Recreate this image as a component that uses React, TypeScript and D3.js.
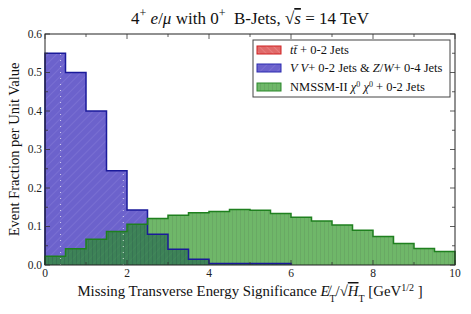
import React from "react";
import * as d3 from "d3";

const binEdges = [0, 0.5, 1, 1.5, 2, 2.5, 3, 3.5, 4, 4.5, 5, 5.5, 6, 6.5, 7, 7.5, 8, 8.5, 9, 9.5, 10];
const vvValues = [0.55, 0.5, 0.4, 0.245, 0.143, 0.08, 0.041, 0.015, 0.004, 0.004, 0.004, 0.004];
const nmssmValues = [0.023, 0.042, 0.067, 0.087, 0.106, 0.121, 0.129, 0.136, 0.139, 0.144, 0.142, 0.134, 0.124, 0.114, 0.104, 0.09, 0.074, 0.056, 0.043, 0.035];
const ttValues: number[] = [];
const xTicks = [0, 2, 4, 6, 8, 10];
const yTicks = [0.0, 0.1, 0.2, 0.3, 0.4, 0.5, 0.6];
const dottedX = [0.38, 1.91];

const W = 471, H = 314;
const M = { left: 45, right: 455, top: 34, bottom: 265 };

export default function App() {
  const x = d3.scaleLinear().domain([0, 10]).range([M.left, M.right]);
  const y = d3.scaleLinear().domain([0, 0.6]).range([M.bottom, M.top]);

  const stepPts = (vals: number[]) => {
    const pts: [number, number][] = vals.map((v, i) => [binEdges[i], v]);
    if (vals.length) pts.push([binEdges[vals.length], vals[vals.length - 1]]);
    return pts;
  };
  const area = d3.area<[number, number]>().x(d => x(d[0])).y0(y(0)).y1(d => y(d[1])).curve(d3.curveStepAfter);
  const line = d3.line<[number, number]>().x(d => x(d[0])).y(d => y(d[1])).curve(d3.curveStepAfter);

  const vvPts = stepPts(vvValues);
  const nmPts = stepPts(nmssmValues);
  const vvLine = "M" + x(0) + "," + y(0) + "L" + line(vvPts)!.slice(1) + "L" + x(binEdges[vvValues.length]) + "," + y(0);
  const nmLine = "M" + x(0) + "," + y(0) + "L" + line(nmPts)!.slice(1) + "L" + x(10) + "," + y(0);

  const serif = "'Liberation Serif', 'DejaVu Serif', serif";
  const minorX = d3.range(0, 10.01, 1);
  const minorY = d3.range(0, 0.601, 0.05);

  return (
    <svg width={W} height={H} style={{ position: "absolute", left: 0, top: 0, background: "#fff" }} fontFamily={serif}>
      <defs>
        <pattern id="hb" patternUnits="userSpaceOnUse" width="6" height="6" patternTransform="rotate(45)">
          <rect width="6" height="6" fill="#6c62cc" />
          <line x1="0" y1="0" x2="0" y2="6" stroke="#857bd9" strokeWidth="1" />
        </pattern>
        <pattern id="hg" patternUnits="userSpaceOnUse" width="4" height="4">
          <rect width="4" height="4" fill="rgb(36,146,27)" />
          <line x1="0.5" y1="0" x2="0.5" y2="4" stroke="rgb(20,110,15)" strokeWidth="0.6" />
        </pattern>
        <pattern id="hr" patternUnits="userSpaceOnUse" width="5" height="5" patternTransform="rotate(-45)">
          <rect width="5" height="5" fill="#e06a6a" />
          <line x1="0" y1="0" x2="0" y2="5" stroke="#f09090" strokeWidth="1" />
        </pattern>
      </defs>

      {/* histograms */}
      <path d={area(vvPts)!} fill="url(#hb)" />
      <path d={area(nmPts)!} fill="url(#hg)" fillOpacity={0.66} />
      {ttValues.length > 0 && <path d={area(stepPts(ttValues))!} fill="url(#hr)" fillOpacity={0.7} />}
      {dottedX.map((dx, i) => {
        const idx = Math.floor(dx / 0.5);
        const top = Math.max(vvValues[idx] ?? 0, nmssmValues[idx] ?? 0);
        return <line key={i} x1={x(dx)} x2={x(dx)} y1={y(0)} y2={y(top)} stroke="#fff" strokeOpacity={0.7} strokeWidth={1} strokeDasharray="1,5" />;
      })}
      <path d={vvLine} fill="none" stroke="#1a1a9a" strokeWidth={1.5} />
      <path d={nmLine} fill="none" stroke="#1f801f" strokeWidth={1.5} />

      {/* frame */}
      <rect x={M.left} y={M.top} width={M.right - M.left} height={M.bottom - M.top} fill="none" stroke="#222" strokeWidth={1} />
      {minorX.map((t, i) => {
        const major = xTicks.includes(t);
        const len = major ? 5 : 3;
        return (
          <g key={"xt" + i} stroke="#333" strokeWidth={0.8}>
            <line x1={x(t)} x2={x(t)} y1={M.bottom} y2={M.bottom - len} />
            <line x1={x(t)} x2={x(t)} y1={M.top} y2={M.top + len} />
          </g>
        );
      })}
      {minorY.map((t, i) => {
        const major = Math.abs(t * 10 - Math.round(t * 10)) < 1e-6;
        const len = major ? 5 : 3;
        return (
          <g key={"yt" + i} stroke="#333" strokeWidth={0.8}>
            <line x1={M.left} x2={M.left + len} y1={y(t)} y2={y(t)} />
            <line x1={M.right} x2={M.right - len} y1={y(t)} y2={y(t)} />
          </g>
        );
      })}
      {xTicks.map(t => (
        <text key={"xl" + t} x={x(t)} y={M.bottom + 12} textAnchor="middle" fontSize={11.5} fill="#222">{t}</text>
      ))}
      {yTicks.map(t => (
        <text key={"yl" + t} x={M.left - 3} y={y(t) + 3.5} textAnchor="end" fontSize={11.5} fill="#222">{t.toFixed(1)}</text>
      ))}

      {/* title */}
      <text x={250} y={24} textAnchor="middle" fontSize={17} fill="#111">
        4<tspan baselineShift="super" fontSize={12}>+</tspan> <tspan fontStyle="italic">e</tspan>/<tspan fontStyle="italic">μ</tspan> with 0<tspan baselineShift="super" fontSize={12}>+</tspan>{"\u00a0\u00a0"}B-Jets, √<tspan fontStyle="italic" textDecoration="overline">s</tspan> = 14 TeV
      </text>

      {/* axis labels */}
      <text x={250} y={296} textAnchor="middle" fontSize={14.8} fill="#111">
        Missing Transverse Energy Significance <tspan fontStyle="italic">E̸</tspan><tspan baselineShift="sub" fontSize={10}>T</tspan>/√<tspan fontStyle="italic" textDecoration="overline">H</tspan><tspan baselineShift="sub" fontSize={10}>T</tspan> [GeV<tspan baselineShift="super" fontSize={10}>1/2</tspan> ]
      </text>
      <text transform={`translate(19,${(M.top + M.bottom) / 2}) rotate(-90)`} textAnchor="middle" fontSize={14.5} fill="#111">Event Fraction per Unit Value</text>

      {/* legend */}
      <g>
        <rect x={253} y={40} width={197} height={57} fill="#fff" stroke="#444" strokeWidth={1} />
        <rect x={257} y={46} width={24} height={8} fill="url(#hr)" stroke="#d02020" strokeWidth={1} />
        <text x={290} y={54} fontSize={12.5} fill="#111"><tspan fontStyle="italic">t</tspan><tspan fontStyle="italic">t̄</tspan> + 0-2 Jets</text>
        <rect x={257} y={64} width={24} height={8} fill="url(#hb)" stroke="#2a2ab0" strokeWidth={1} />
        <text x={290} y={72} fontSize={12.5} fill="#111"><tspan fontStyle="italic">V V</tspan>+ 0-2 Jets &amp; <tspan fontStyle="italic">Z</tspan>/<tspan fontStyle="italic">W</tspan>+ 0-4 Jets</text>
        <rect x={257} y={83} width={24} height={8} fill="url(#hg)" fillOpacity={0.66} stroke="#2a8a2a" strokeWidth={1} />
        <text x={290} y={91} fontSize={12.5} fill="#111">NMSSM-II <tspan fontStyle="italic">χ</tspan><tspan baselineShift="super" fontSize={8}>0</tspan> <tspan fontStyle="italic">χ</tspan><tspan baselineShift="super" fontSize={8}>0</tspan>  + 0-2 Jets</text>
      </g>
    </svg>
  );
}
